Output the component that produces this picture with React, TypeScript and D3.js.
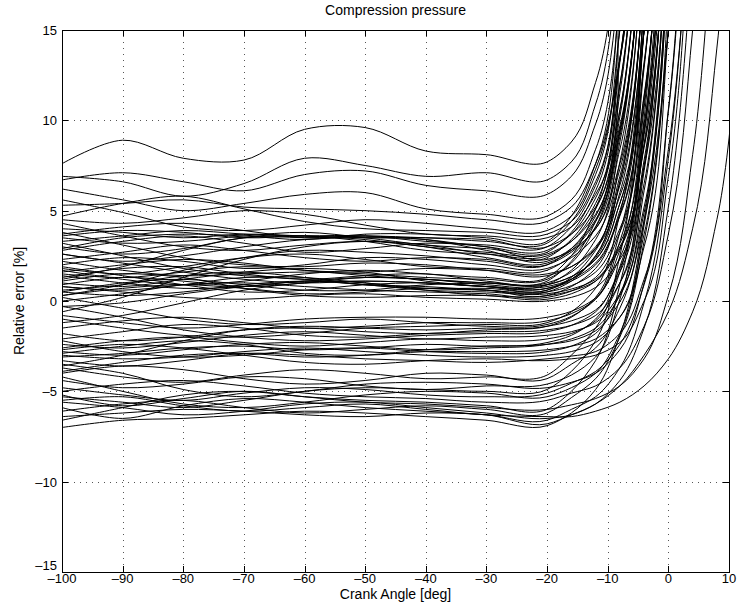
import React from 'react';
import * as d3 from 'd3';

// Crank angle grid (deg) shared by every curve
const X_GRID = [-100, -90, -80, -70, -60, -50, -40, -30, -20, -16, -12, -8, -4, 0, 4, 8, 12];

const X_TICKS = [-100, -90, -80, -70, -60, -50, -40, -30, -20, -10, 0, 10];
const Y_TICKS = [-15, -10, -5, 0, 5, 10, 15];

// Relative error [%] curves, grouped by level
const TOP_CURVES = [
  [7.6, 8.9, 7.9, 7.8, 9.5, 9.6, 8.3, 8.1, 7.7, 8.8, 12.1, 24],
  [6.9, 6.6, 5.8, 6.5, 7.9, 7.5, 6.9, 7.1, 6.7, 7.7, 10.9, 23],
  [6.7, 7.1, 6.6, 6.1, 7.0, 7.2, 6.4, 6.1, 5.9, 6.9, 9.8, 21],
  [6.2, 5.6, 5.0, 5.4, 5.9, 6.0, 5.1, 4.8, 4.7, 5.6, 8.4, 19],
  [5.3, 5.4, 5.6, 5.2, 5.1, 5.0, 4.8, 4.5, 4.4, 5.2, 7.6, 13.4, 30],
  [5.6, 4.9, 4.1, 3.9, 4.2, 4.5, 4.3, 4.0, 3.9, 4.7, 7.3, 13.3, 30],
  [4.7, 5.4, 5.8, 5.1, 4.4, 4.0, 3.9, 3.8, 3.7, 4.4, 6.6, 15, 35],
  [4.5, 4.3, 4.6, 5.0, 4.8, 4.2, 3.7, 3.6, 3.5, 4.1, 5.9, 16.8, 35],
];

const UPPER_CURVES = [
  [4.0, 3.8, 3.5, 3.7, 3.6, 3.5, 3.5, 3.3, 3.2, 4.4, 7.0, 15, 40],
  [3.7, 4.1, 4.3, 3.9, 3.5, 3.6, 3.4, 3.0, 2.8, 3.7, 5.7, 12.0, 31.6],
  [3.5, 3.2, 3.3, 3.6, 3.8, 3.5, 3.1, 2.9, 2.7, 3.8, 6.1, 13.4, 36],
  [3.3, 3.6, 3.9, 3.7, 3.5, 3.6, 3.5, 3.4, 3.0, 3.7, 5.2, 9.7, 24],
  [3.0, 2.6, 2.9, 3.5, 3.6, 3.3, 2.8, 2.6, 2.5, 3.3, 5.1, 10.6, 28],
  [2.8, 3.3, 3.6, 3.2, 2.7, 2.9, 3.2, 3.0, 2.3, 2.8, 4.0, 7.6, 19.2],
  [2.6, 2.2, 2.5, 3.0, 3.4, 3.5, 3.4, 2.8, 2.2, 2.9, 4.5, 9.4, 24.9],
  [2.3, 2.7, 3.1, 2.8, 2.4, 2.2, 2.4, 2.3, 2.0, 2.7, 4.0, 8.4, 22],
  [2.0, 2.4, 2.2, 1.8, 2.0, 2.4, 2.3, 2.0, 1.8, 2.4, 3.6, 7.3, 19.4],
  [1.8, 1.5, 1.9, 2.4, 2.6, 2.3, 1.9, 1.8, 1.7, 2.5, 4.1, 9.1, 25.2],
  [1.6, 2.0, 2.3, 2.1, 1.7, 1.6, 1.8, 1.7, 1.5, 1.9, 2.9, 5.8, 15, 43],
  [3.8, 3.1, 2.4, 2.0, 1.9, 2.1, 2.0, 1.7, 1.4, 1.9, 3.0, 6.4, 17],
  [0.3, 0.9, 1.7, 2.4, 2.8, 2.7, 2.5, 2.2, 2.0, 2.9, 4.7, 10.5, 28.6],
  [-0.6, 0.2, 1.3, 2.3, 3.0, 3.3, 3.1, 2.6, 2.4, 3.4, 5.4, 11.9, 32],
  [4.3, 3.6, 3.0, 2.8, 3.1, 3.3, 3.0, 2.4, 2.1, 2.8, 4.4, 9.3, 25],
  [3.6, 3.9, 3.8, 3.5, 3.6, 3.6, 3.3, 3.1, 3.0, 4.1, 6.4, 13.4, 35],
  [2.9, 3.5, 3.7, 3.6, 3.4, 3.7, 3.7, 3.5, 3.3, 4.7, 7.6, 16.8, 40],
  [1.2, 1.9, 2.8, 3.5, 3.6, 3.4, 3.0, 2.7, 2.6, 3.3, 4.8, 9.5, 24.5],
];

const MIDDLE_CURVES = [
  [1.5, 1.3, 1.6, 1.9, 1.7, 1.4, 1.2, 1.0, 1.0, 1.6, 2.9, 6.9, 19.6],
  [1.3, 1.8, 1.9, 1.5, 1.2, 1.4, 1.5, 1.1, 0.9, 1.35, 2.3, 5.4, 15, 44],
  [1.0, 0.8, 1.2, 1.6, 1.8, 1.6, 1.1, 0.8, 0.7, 1.2, 2.4, 6.0, 17.2],
  [0.9, 1.3, 1.1, 0.8, 1.0, 1.3, 1.2, 0.9, 0.8, 1.2, 2.1, 4.8, 13.2, 39],
  [0.8, 0.6, 0.9, 1.3, 1.2, 0.9, 0.8, 0.6, 0.5, 0.85, 1.6, 4.0, 11.4, 34.7],
  [0.6, 0.9, 1.4, 1.6, 1.3, 0.9, 0.7, 0.7, 0.6, 1.2, 2.5, 6.6, 19.8],
  [0.5, 0.3, 0.5, 0.9, 1.1, 0.9, 0.6, 0.5, 0.4, 0.66, 1.2, 3.0, 8.6, 26],
  [0.3, 0.7, 0.9, 0.7, 0.4, 0.5, 0.7, 0.6, 0.3, 0.8, 1.8, 5.0, 15, 45],
  [0.0, 0.4, 0.9, 1.0, 0.8, 0.6, 0.5, 0.4, 0.2, 0.55, 1.3, 3.8, 11.3, 35],
  [2.6, 2.1, 1.6, 1.2, 1.0, 1.1, 1.0, 0.8, 0.6, 1.3, 2.8, 7.7, 22.9],
  [1.9, 1.4, 0.9, 0.5, 0.6, 0.9, 1.0, 0.8, 0.9, 1.7, 3.4, 8.8, 25.9],
  [2.2, 1.7, 1.4, 1.5, 1.6, 1.5, 1.3, 1.2, 1.2, 2.1, 4.1, 10.2, 29.5],
  [-0.3, -0.1, 0.4, 0.8, 1.1, 1.3, 1.2, 1.0, 0.9, 1.35, 2.3, 5.4, 15, 44],
  [-1.2, -0.8, -0.1, 0.6, 1.0, 1.1, 1.0, 0.8, 0.7, 1.1, 2.0, 4.7, 13.1, 39],
  [1.1, 1.5, 1.3, 0.7, 0.3, 0.2, 0.3, 0.3, 0.1, 0.4, 1.1, 3.2, 9.8, 30.6],
  [0.8, 0.5, 0.2, 0.1, 0.3, 0.4, 0.2, 0.1, 0.0, 0.2, 0.75, 2.3, 7.4, 23],
  [3.2, 2.5, 1.8, 1.4, 1.3, 1.0, 0.7, 0.6, 0.5, 1.1, 2.5, 6.6, 19.8],
  [1.4, 1.0, 0.7, 0.8, 1.1, 1.0, 0.6, 0.3, 0.3, 0.56, 1.1, 2.9, 8.5, 26],
  [0.5, 1.0, 1.2, 0.9, 0.6, 0.6, 0.9, 1.0, 1.1, 2.2, 4.4, 11.5, 33.9],
  [1.7, 1.2, 0.9, 1.1, 1.5, 1.7, 1.5, 1.3, 1.3, 2.5, 5.1, 13.2, 38],
];

const LOWER_CURVES = [
  [-0.8, -1.2, -1.5, -1.3, -1.0, -0.9, -0.9, -1.0, -0.9, -0.57, 0.17, 2.4, 9.4, 31.7],
  [-1.5, -1.1, -0.9, -1.2, -1.5, -1.4, -1.2, -1.2, -1.1, -0.7, 0.1, 2.8, 11, 37],
  [-1.8, -2.2, -2.0, -1.6, -1.5, -1.7, -1.8, -1.6, -1.4, -1.1, -0.5, 1.6, 7.8, 27.6],
  [-2.1, -1.7, -1.3, -1.5, -1.9, -2.0, -1.8, -1.7, -1.6, -1.35, -0.8, 1.0, 6.5, 24],
  [-2.4, -2.6, -2.3, -1.9, -1.7, -1.9, -2.1, -2.0, -1.9, -1.7, -1.2, 0.4, 5.2, 20.6],
  [-2.6, -2.2, -2.0, -2.3, -2.5, -2.3, -2.1, -2.2, -2.1, -1.8, -1.1, 1.0, 7.5, 28],
  [-2.8, -3.0, -2.7, -2.4, -2.3, -2.5, -2.7, -2.6, -2.4, -2.1, -1.5, 0.3, 6.1, 24.6],
  [-2.9, -2.5, -2.2, -2.4, -2.9, -3.0, -2.8, -2.8, -2.7, -2.5, -2.1, -0.9, 3.0, 15, 52],
  [-3.0, -3.2, -3.1, -2.8, -2.6, -2.8, -3.0, -3.1, -3.0, -2.8, -2.3, -0.9, 3.7, 17.7],
  [-3.1, -2.9, -2.6, -2.5, -2.7, -2.6, -2.4, -2.5, -2.3, -1.9, -1.0, 1.9, 10.7, 38.5],
  [-3.3, -3.6, -3.3, -2.9, -3.0, -3.2, -3.3, -3.4, -3.2, -3.05, -2.8, -1.8, 1.2, 10.5, 39.8],
  [-0.3, -0.9, -1.6, -2.0, -2.2, -2.1, -1.9, -1.8, -1.7, -1.35, -0.6, 1.8, 9.2, 32.5],
  [0.2, -0.4, -1.0, -1.3, -1.2, -1.0, -1.2, -1.4, -1.3, -0.85, 0.1, 3.3, 12.9, 43],
  [-3.6, -3.0, -2.2, -1.6, -1.4, -1.5, -1.6, -1.5, -1.4, -0.9, 0.2, 3.8, 15, 49],
  [-3.9, -3.4, -3.0, -2.9, -3.1, -3.0, -2.7, -2.5, -2.4, -2.2, -1.65, -0.05, 4.9, 20.7],
  [-2.2, -2.8, -3.1, -3.0, -2.7, -2.6, -2.8, -2.9, -2.8, -2.5, -1.8, 0.4, 7.2, 28.7],
  [-1.0, -1.5, -1.9, -2.0, -1.8, -1.5, -1.4, -1.3, -1.2, -0.6, 0.7, 4.8, 17.4],
  [-2.7, -2.4, -2.6, -3.0, -3.4, -3.5, -3.3, -3.2, -3.3, -3.2, -3.0, -2.3, 0.0, 6.9, 29],
];

const BOTTOM_CURVES = [
  [-3.7, -4.2, -4.5, -4.1, -3.8, -4.0, -4.3, -4.2, -4.1, -3.0, -1.5, 1.6, 8.7, 24.4],
  [-4.0, -3.6, -3.8, -4.3, -4.6, -4.4, -4.0, -4.1, -4.3, -3.5, -2.6, -0.4, 4.4, 15, 38],
  [-4.4, -4.8, -4.6, -4.2, -4.3, -4.7, -4.9, -4.7, -4.6, -4.1, -3.1, 0.1, 10.1, 41.7],
  [-4.8, -5.2, -5.5, -5.1, -4.8, -4.9, -5.2, -5.3, -5.1, -4.55, -3.9, -2.4, 0.9, 8.4, 24.9],
  [-5.0, -4.6, -4.4, -4.7, -5.1, -5.3, -5.4, -5.6, -5.5, -5.1, -4.7, -3.7, -1.4, 3.7, 15, 39.6],
  [-5.2, -5.8, -5.4, -5.0, -5.3, -5.6, -5.7, -5.9, -6.0, -5.75, -5.4, -4.7, -3.2, 0.3, 8.1, 25.3],
  [-5.5, -5.3, -5.8, -6.1, -5.9, -5.7, -6.0, -6.3, -6.4, -6.4, -6.1, -5.6, -4.7, -3.2, -0.6, 4.5, 18],
  [-5.6, -5.9, -6.3, -6.1, -5.7, -5.6, -5.9, -6.2, -6.5, -6.3, -5.7, -4.7, -3.0, -0.6, 4.0, 14, 35],
  [-5.9, -6.5, -5.8, -5.4, -5.6, -5.9, -6.1, -6.3, -6.6, -6.0, -5.3, -3.7, -0.1, 7.9, 25.6],
  [-6.1, -5.7, -5.5, -5.9, -6.2, -6.0, -5.8, -6.0, -6.2, -5.35, -4.3, -2.0, 3.3, 15, 40],
  [-6.4, -6.2, -6.0, -6.1, -6.3, -6.4, -6.2, -6.3, -6.8, -6.3, -5.7, -4.4, -1.5, 5.2, 19.8],
  [-7.0, -6.6, -6.5, -6.3, -6.1, -6.2, -6.4, -6.6, -6.9, -6.2, -4.9, -1.9, 4.5, 19],
  [-6.6, -5.9, -5.2, -5.0, -5.3, -5.5, -5.6, -5.8, -6.0, -5.0, -3.3, 0.9, 9.5, 28],
  [-4.2, -5.0, -5.7, -5.9, -5.6, -5.2, -5.0, -5.1, -5.3, -4.8, -4.0, -1.8, 4.2, 20.7],
  [-5.3, -5.6, -5.9, -5.5, -5.0, -4.8, -4.9, -5.0, -4.9, -3.9, -2.2, 2.5, 15, 49],
  [-3.5, -4.0, -4.9, -5.3, -5.0, -4.6, -4.5, -4.6, -4.8, -4.5, -4.0, -2.7, 1.0, 10.6, 37],
];

const fmt = (v: number) => String(v).replace('-', '\u2013');

export default function App() {
  const W = 738, H = 602;
  const L = 62, R = 729, T = 30, B = 572;
  const x = d3.scaleLinear().domain([-100, 10]).range([L, R]);
  const y = d3.scaleLinear().domain([-15, 15]).range([B, T]);
  const line = d3
    .line<number>()
    .x((_, i) => x(X_GRID[i]))
    .y((d) => y(d))
    .curve(d3.curveCatmullRom.alpha(1));
  const all = [...TOP_CURVES, ...UPPER_CURVES, ...MIDDLE_CURVES, ...LOWER_CURVES, ...BOTTOM_CURVES];
  const tick = 6;
  const font = "'Liberation Sans', Arial, Helvetica, sans-serif";
  return (
    <svg width={W} height={H} style={{ position: 'absolute', left: 0, top: 0 }} fontFamily={font}>
      <rect width={W} height={H} fill="#fff" />
      <defs>
        <clipPath id="plotArea">
          <rect x={L} y={T} width={R - L} height={B - T} />
        </clipPath>
      </defs>
      {/* grid */}
      <g stroke="#555" strokeWidth={1} strokeDasharray="1,5" shapeRendering="crispEdges">
        {X_TICKS.slice(1, -1).map((t) => (
          <line key={'gx' + t} x1={Math.round(x(t)) + 0.5} x2={Math.round(x(t)) + 0.5} y1={T} y2={B} />
        ))}
        {Y_TICKS.slice(1, -1).map((t) => (
          <line key={'gy' + t} x1={L} x2={R} y1={Math.round(y(t)) + 0.5} y2={Math.round(y(t)) + 0.5} />
        ))}
      </g>
      <g clipPath="url(#plotArea)" fill="none" stroke="#000" strokeWidth={1}>
        {all.map((s, i) => (
          <path key={i} d={line(s) || ''} />
        ))}
      </g>
      {/* box and ticks */}
      <g stroke="#000" strokeWidth={1} shapeRendering="crispEdges">
        <rect x={L + 0.5} y={T + 0.5} width={R - L} height={B - T} fill="none" />
        {X_TICKS.map((t) => (
          <g key={'tx' + t}>
            <line x1={Math.round(x(t)) + 0.5} x2={Math.round(x(t)) + 0.5} y1={B} y2={B - tick} />
            <line x1={Math.round(x(t)) + 0.5} x2={Math.round(x(t)) + 0.5} y1={T} y2={T + tick} />
          </g>
        ))}
        {Y_TICKS.map((t) => (
          <g key={'ty' + t}>
            <line x1={L} x2={L + tick} y1={Math.round(y(t)) + 0.5} y2={Math.round(y(t)) + 0.5} />
            <line x1={R} x2={R - tick} y1={Math.round(y(t)) + 0.5} y2={Math.round(y(t)) + 0.5} />
          </g>
        ))}
      </g>
      <g fill="#000">
        {X_TICKS.map((t) => (
          <text key={'lx' + t} x={x(t)} y={B + 11} fontSize={13} textAnchor="middle">
            {fmt(t)}
          </text>
        ))}
        {Y_TICKS.map((t) => (
          <text key={'ly' + t} x={L - 5} y={t === -15 ? y(t) - 2 : y(t) + 5} fontSize={13} textAnchor="end">
            {fmt(t)}
          </text>
        ))}
        <text x={(L + R) / 2} y={B + 27} fontSize={14} textAnchor="middle">
          Crank Angle [deg]
        </text>
        <text transform={`translate(${24},${(T + B) / 2}) rotate(-90)`} fontSize={14} textAnchor="middle">
          Relative error [%]
        </text>
        <text x={(L + R) / 2} y={T - 15} fontSize={14} textAnchor="middle">
          Compression pressure
        </text>
      </g>
    </svg>
  );
}
